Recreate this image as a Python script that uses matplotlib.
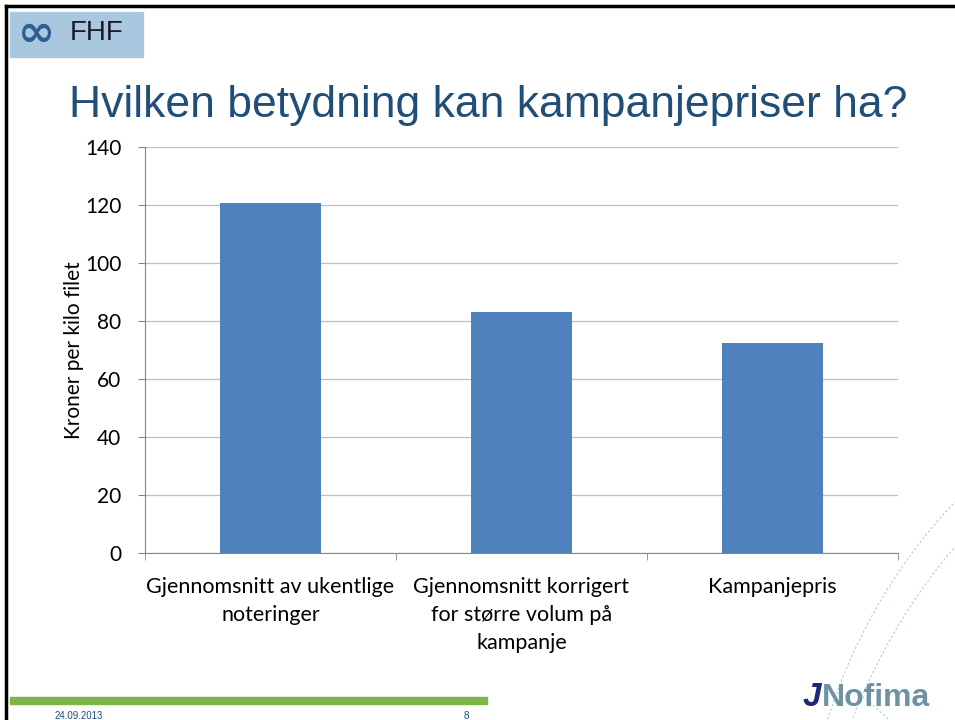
import numpy as np
import matplotlib.pyplot as plt
from matplotlib.patches import Rectangle, Arc

categories = ["Gjennomsnitt av ukentlige\nnoteringer",
              "Gjennomsnitt korrigert\nfor større volum på\nkampanje",
              "Kampanjepris"]
values = [120.7, 83.1, 72.4]
yticks = [0, 20, 40, 60, 80, 100, 120, 140]

plt.rcParams["font.family"] = ["Lato", "DejaVu Sans"]

fig = plt.figure(figsize=(9.55, 7.2), dpi=100)

# background decoration (dotted arcs bottom right)
deco = fig.add_axes([0, 0, 1, 1], zorder=0)
deco.set_xlim(0, 955)
deco.set_ylim(720, 0)
deco.axis("off")
for cx, cy, w, h, t1, t2 in [(1250, 1000, 900, 1200, 180, 240),
                             (1300, 900, 1000, 1100, 170, 230),
                             (700, 1100, 900, 1200, 300, 360),
                             (600, 1250, 1000, 1300, 295, 345),
                             (1400, 1200, 1700, 1400, 140, 175)]:
    deco.add_patch(Arc((cx, cy), w, h, theta1=t1, theta2=t2,
                       color="#b8c8d0", lw=0.8, ls=(0, (2, 2))))

# slide frame
deco.plot([6, 6], [6, 720], color="black", lw=2.5)
deco.plot([6, 955], [6, 6], color="black", lw=2.5)

# FHF logo
deco.add_patch(Rectangle((10, 12), 133, 45, color="#a9c8e0"))
deco.text(70, 33, "FHF", fontsize=20, color="#1a1a2a",
          family="Liberation Sans", ha="left", va="center")
deco.text(18, 33, "∞", fontsize=32, color="#2f5f8f", ha="left", va="center",
          family="DejaVu Sans", fontweight="bold")

# title
deco.text(488, 106, "Hvilken betydning kan kampanjepriser ha?", fontsize=32,
          color="#1f4e79", family="Liberation Sans", ha="center", va="center")

# footer
deco.add_patch(Rectangle((10, 697), 477, 7, color="#7ab648"))
deco.text(55, 716, "24.09.2013", fontsize=7, color="#1f4e79",
          family="Liberation Sans", ha="left", va="center")
deco.text(466, 716, "8", fontsize=7, color="#1f4e79",
          family="Liberation Sans", ha="center", va="center")
deco.text(822, 698, "Nofima", fontsize=23, fontweight="bold", color="#6f92a3",
          family="Liberation Sans", ha="left", va="center")
deco.text(803, 698, "J", fontsize=24, fontweight="bold", color="#1e2a78",
          family="Liberation Sans", ha="left", va="center", style="italic")

ax = fig.add_axes([0.1518, 0.2319, 0.7885, 0.5639], zorder=1)
ax.patch.set_alpha(0)
x = np.arange(len(categories))
ax.bar(x, values, width=0.4, color="#4f81bd", zorder=3)
ax.set_xlim(-0.5, 2.5)
ax.set_ylim(0, 140)
ax.set_yticks(yticks)
ax.yaxis.grid(True, color="#bfbfbf", lw=0.9)
ax.set_axisbelow(True)
ax.set_xticks(x)
ax.set_xticklabels(categories, fontsize=15.5)
ax.tick_params(axis="x", length=0, pad=17)
ax.set_xticks([-0.5, 0.5, 1.5, 2.5], minor=True)
ax.tick_params(axis="x", which="minor", length=5, color="#868686")
ax.tick_params(axis="y", labelsize=15, length=5, color="#868686", pad=12)
for s in ["top", "right"]:
    ax.spines[s].set_visible(False)
ax.spines["left"].set_color("#868686")
ax.spines["bottom"].set_color("#868686")
ax.set_ylabel("Kroner per kilo filet", fontsize=15, labelpad=1)
for lbl in ax.get_xticklabels():
    lbl.set_linespacing(1.5)

fig.savefig("out.png", dpi=100)
